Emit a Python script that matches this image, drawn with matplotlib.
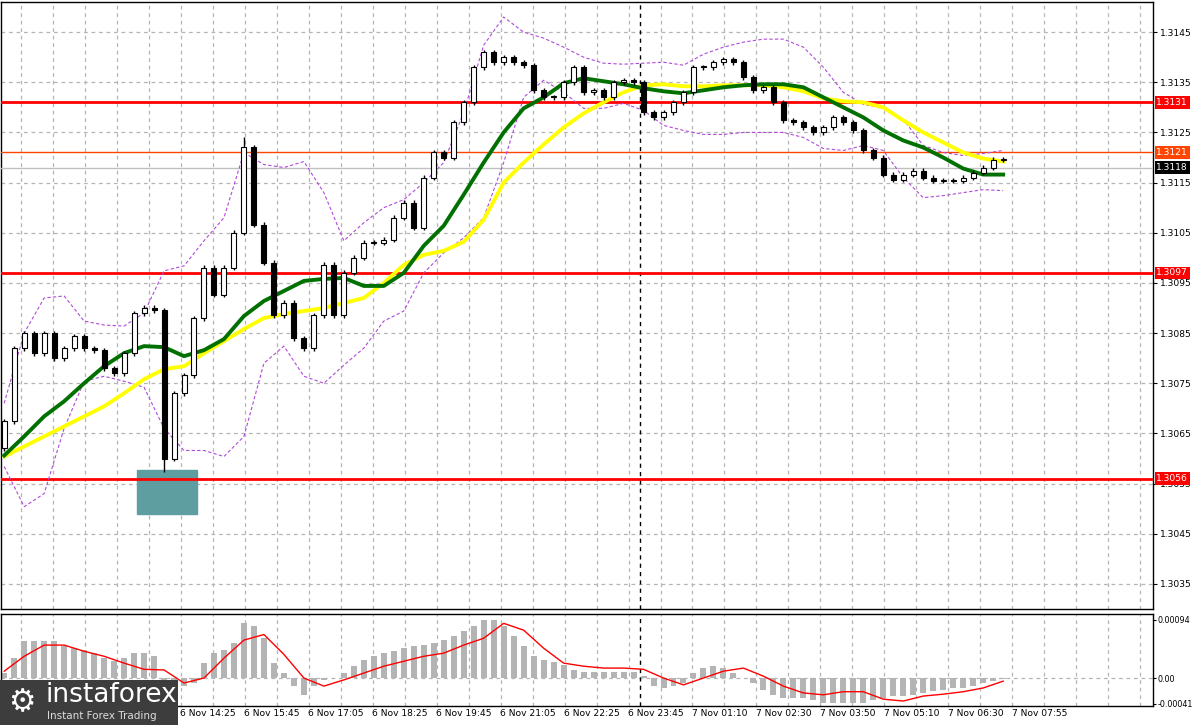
import numpy as np
import matplotlib
matplotlib.use("Agg")
import matplotlib.pyplot as plt
from matplotlib.patches import Rectangle

# ---------------- data ----------------
closes = [1.30674, 1.3082, 1.3085, 1.3081, 1.3085, 1.3080, 1.3082, 1.30844, 1.3082, 1.30816,
          1.3078, 1.3077, 1.3081, 1.3089, 1.3090, 1.30896, 1.3060, 1.3073, 1.30766, 1.3088,
          1.3098, 1.30926, 1.3098, 1.3105, 1.3122, 1.31066, 1.3099, 1.30886, 1.3091, 1.3084,
          1.3082, 1.30886, 1.30986, 1.30886, 1.3097, 1.3100, 1.3103, 1.3103, 1.31036, 1.3108,
          1.3111, 1.3106, 1.3116, 1.3121, 1.3120, 1.3127, 1.3131, 1.3138, 1.3141, 1.3139,
          1.3140, 1.3139, 1.31384, 1.31334, 1.3132, 1.3132, 1.3135, 1.3138, 1.3133, 1.31334,
          1.3132, 1.3135, 1.31354, 1.3135, 1.3129, 1.3128, 1.3129, 1.3131, 1.3133, 1.3138,
          1.3138, 1.3139, 1.31396, 1.3139, 1.3136, 1.31334, 1.3134, 1.3131, 1.31274, 1.3127,
          1.3126, 1.3125, 1.3126, 1.3128, 1.3127, 1.31254, 1.31214, 1.3120, 1.31166, 1.31156,
          1.31166, 1.31174, 1.3116, 1.31154, 1.31154, 1.31154, 1.3116, 1.3117, 1.3118, 1.31196,
          1.31196]
first_open = 1.3062
spike_low = {16: 1.30574}
spike_high = {24: 1.3124}

ma_fast = [1.30606, 1.30644, 1.30684, 1.30714, 1.3075, 1.30784, 1.3081, 1.30824, 1.30822, 1.30804,
           1.30816, 1.30838, 1.30884, 1.30914, 1.30934, 1.30954, 1.30958, 1.3096, 1.30944, 1.30944,
           1.3097, 1.31024, 1.31064, 1.31126, 1.3119, 1.3125, 1.31298, 1.3132, 1.31348, 1.31358,
           1.31352, 1.31346, 1.31338, 1.31332, 1.31328, 1.31334, 1.3134, 1.31344, 1.31346, 1.31346,
           1.3134, 1.3132, 1.3130, 1.3128, 1.31254, 1.31234, 1.3122, 1.3120, 1.31178, 1.31166, 1.31166]
ma_slow = [1.30604, 1.30624, 1.30644, 1.30664, 1.30684, 1.30704, 1.3073, 1.30758, 1.30778, 1.30784,
           1.3081, 1.30834, 1.30858, 1.3088, 1.30888, 1.30894, 1.3090, 1.3091, 1.3092, 1.3095,
           1.30986, 1.31006, 1.31014, 1.31032, 1.31076, 1.3115, 1.3119, 1.31226, 1.3126, 1.31288,
           1.3131, 1.3133, 1.31344, 1.31346, 1.31342, 1.31342, 1.31344, 1.31344, 1.31344, 1.3134,
           1.31332, 1.31318, 1.31312, 1.3131, 1.3130, 1.31274, 1.3125, 1.3123, 1.3121, 1.31198, 1.31192]
band_up = [1.3071, 1.3085, 1.3092, 1.30924, 1.30874, 1.30866, 1.30864, 1.3089, 1.30974, 1.30984,
           1.31034, 1.3108, 1.3121, 1.31186, 1.3118, 1.31192, 1.3113, 1.31034, 1.3107, 1.3110,
           1.31116, 1.3115, 1.3119, 1.3129, 1.31424, 1.3148, 1.3145, 1.31438, 1.3142, 1.3140,
           1.31388, 1.31386, 1.31388, 1.3139, 1.31384, 1.31406, 1.3142, 1.3143, 1.31436, 1.31436,
           1.3142, 1.3138, 1.3133, 1.31306, 1.31298, 1.31276, 1.31224, 1.3121, 1.31204, 1.31208, 1.31214]
band_dn = [1.30584, 1.30504, 1.3053, 1.3066, 1.30754, 1.30764, 1.30754, 1.30742, 1.3066, 1.30616,
           1.30616, 1.30604, 1.30644, 1.3079, 1.30824, 1.30764, 1.3075, 1.30786, 1.3082, 1.30874,
           1.30894, 1.3097, 1.3101, 1.3104, 1.3108, 1.3119, 1.3132, 1.31354, 1.3133, 1.31298,
           1.31298, 1.31308, 1.31294, 1.31264, 1.31254, 1.31246, 1.31246, 1.3125, 1.3125, 1.3125,
           1.3124, 1.31218, 1.31214, 1.31224, 1.31214, 1.3116, 1.3112, 1.31124, 1.3113, 1.31136, 1.31134]

hist_e5 = [8, 32, 59, 59, 59, 59, 51, 48, 45, 40, 32, 27, 32, 40, 40, 35, -5, -8, -13, -8,
           24, 40, 45, 56, 88, 83, 64, 24, 8, -13, -27, -13, -3, 0, 8, 19, 29, 35, 40, 43,
           48, 51, 53, 56, 61, 67, 75, 83, 93, 93, 83, 67, 51, 35, 29, 26, 21, 13, 10, 10,
           10, 10, 10, 10, 3, -13, -16, -13, -8, 8, 16, 19, 16, 8, 0, -8, -19, -27, -32, -32,
           -32, -35, -40, -40, -40, -40, -40, -35, -32, -29, -29, -27, -24, -21, -19, -16, -16, -13, -8, -5, -2]
signal_e5 = [11, 35, 53, 53, 43, 35, 24, 14, 13, -8, 0, 32, 61, 70, 38, 0, -13, -3, 8, 19,
             27, 35, 40, 53, 64, 88, 77, 48, 24, 19, 16, 16, 14, 0, -11, 0, 11, 16, 3, -13,
             -24, -27, -22, -22, -34, -37, -29, -26, -22, -16, -5]

levels_red = [1.3131, 1.3097, 1.3056]
level_orange = 1.3121
last_price = 1.3118
zone = (1.3049, 1.30578)
price_ticks = [1.3145, 1.3135, 1.3125, 1.3115, 1.3105, 1.3095, 1.3085, 1.3075, 1.3065, 1.3055, 1.3045, 1.3035]
time_labels = ["6 Nov 11:45", "6 Nov 13:05", "6 Nov 14:25", "6 Nov 15:45", "6 Nov 17:05", "6 Nov 18:25",
               "6 Nov 19:45", "6 Nov 21:05", "6 Nov 22:25", "6 Nov 23:45", "7 Nov 01:10",
               "7 Nov 02:30", "7 Nov 03:50", "7 Nov 05:10", "7 Nov 06:30", "7 Nov 07:55"]

# ---------------- figure ----------------
W, H = 1194, 725
fs = 6.6
fig = plt.figure(figsize=(W / 100, H / 100), dpi=100)
fig.patch.set_facecolor("white")
right = 1153 / W
ax = fig.add_axes([0.001, 1 - 609 / H, right - 0.001, (609 - 2) / H])
axm = fig.add_axes([0.001, 1 - 706 / H, right - 0.001, (706 - 614) / H])

n = len(closes)
idx = np.arange(n)
xlim = (-0.3, 115.0)
grid_x = np.arange(1.7, 115, 3.2)

for a in (ax, axm):
    a.set_xlim(*xlim)
    for gx in grid_x:
        a.axvline(gx, color="#b5b5b5", lw=0.9, ls=(0, (3, 3)), zorder=0)
    a.axvline(63.6, color="black", lw=1.0, ls=(0, (3, 3)), zorder=1)
    a.set_xticks([])
    a.yaxis.tick_right()
    for s in a.spines.values():
        s.set_color("black")
        s.set_linewidth(1.0)
    a.tick_params(axis="y", labelsize=fs, length=3, pad=2, colors="black")

# main panel
ax.set_ylim(1.30300, 1.31510)
ax.set_yticks(price_ticks)
ax.set_yticklabels([f"{p:.4f}" for p in price_ticks])
for p in price_ticks:
    ax.axhline(p, color="#b5b5b5", lw=0.9, ls=(0, (3, 3)), zorder=0)

ax.add_patch(Rectangle((13.3, zone[0]), 6.0, zone[1] - zone[0], color="#5f9ea0", zorder=2))

for lv in levels_red:
    ax.axhline(lv, color="#ff0000", lw=2, zorder=3)
ax.axhline(level_orange, color="#ff4500", lw=1, zorder=3)
ax.axhline(last_price, color="#c0c0c0", lw=1, zorder=3)

mx = np.arange(len(ma_fast)) * 2
ax.plot(mx, band_up, color="#b04ad8", lw=0.8, ls=(0, (3, 2)), zorder=4)
ax.plot(mx, band_dn, color="#b04ad8", lw=0.8, ls=(0, (3, 2)), zorder=4)
ax.plot(mx, ma_slow, color="#ffff00", lw=2.8, zorder=5)
ax.plot(mx, ma_fast, color="#007000", lw=2.8, zorder=6)

opens = [first_open] + closes[:-1]
for i in range(n):
    o, c = opens[i], closes[i]
    hi = spike_high.get(i, max(o, c) + 0.00005)
    lo = spike_low.get(i, min(o, c) - 0.00005)
    ax.vlines(i, lo, hi, color="black", lw=1, zorder=7)
    bottom = min(o, c)
    h = max(abs(c - o), 0.00002)
    face = "white" if c >= o else "black"
    ax.add_patch(Rectangle((i - 0.25, bottom), 0.5, h, facecolor=face, edgecolor="black", lw=0.8, zorder=8))

# price labels
def tag(ypos, text, bg, fg="white"):
    ax.text(1.003, ypos, text, transform=ax.get_yaxis_transform(), fontsize=fs, color=fg,
            va="center", ha="left", zorder=10, clip_on=False,
            bbox=dict(boxstyle="square,pad=0.2", fc=bg, ec="none"))

for lv in levels_red:
    tag(lv, f"{lv:.4f}", "#ff0000")
tag(level_orange, f"{level_orange:.4f}", "#ff4500")
tag(last_price, f"{last_price:.4f}", "black")

# indicator panel
axm.set_ylim(-0.00045, 0.00103)
axm.set_yticks([0.00094, 0.0, -0.00041])
axm.set_yticklabels(["0.00094", "0.00", "-0.00041"])
axm.tick_params(axis="y", labelsize=5.8, pad=1, length=2)
axm.axhline(0, color="#b5b5b5", lw=0.9, ls=(0, (3, 3)), zorder=0)
axm.bar(idx, np.array(hist_e5) * 1e-5, width=0.6, color="#b4b4b4", zorder=2)
axm.plot(mx, np.array(signal_e5) * 1e-5, color="#ff0000", lw=1.0, zorder=3)

# time labels
for k, lab in enumerate(time_labels):
    xpix = 50 + 64 * k
    fig.text((xpix + 2) / W, 1 - 714 / H, lab, fontsize=fs, ha="left", va="center", color="black")

# logo
fig.patches.append(Rectangle((0, 0), 178 / W, 45 / H, transform=fig.transFigure,
                             facecolor="#3d3d3d", edgecolor="none", zorder=20))
fig.text(46 / W, 1 - 695 / H, "instaforex", fontsize=19, color="white", ha="left", va="center",
         zorder=21, family="DejaVu Sans")
fig.text(47 / W, 1 - 716 / H, "Instant Forex Trading", fontsize=7.5, color="#dddddd", ha="left",
         va="center", zorder=21)
fig.text(22 / W, 1 - 703 / H, "\u2699", fontsize=22, color="white", ha="center", va="center", zorder=21,
         family="DejaVu Sans")

fig.savefig("out.png", dpi=100, facecolor="white")
